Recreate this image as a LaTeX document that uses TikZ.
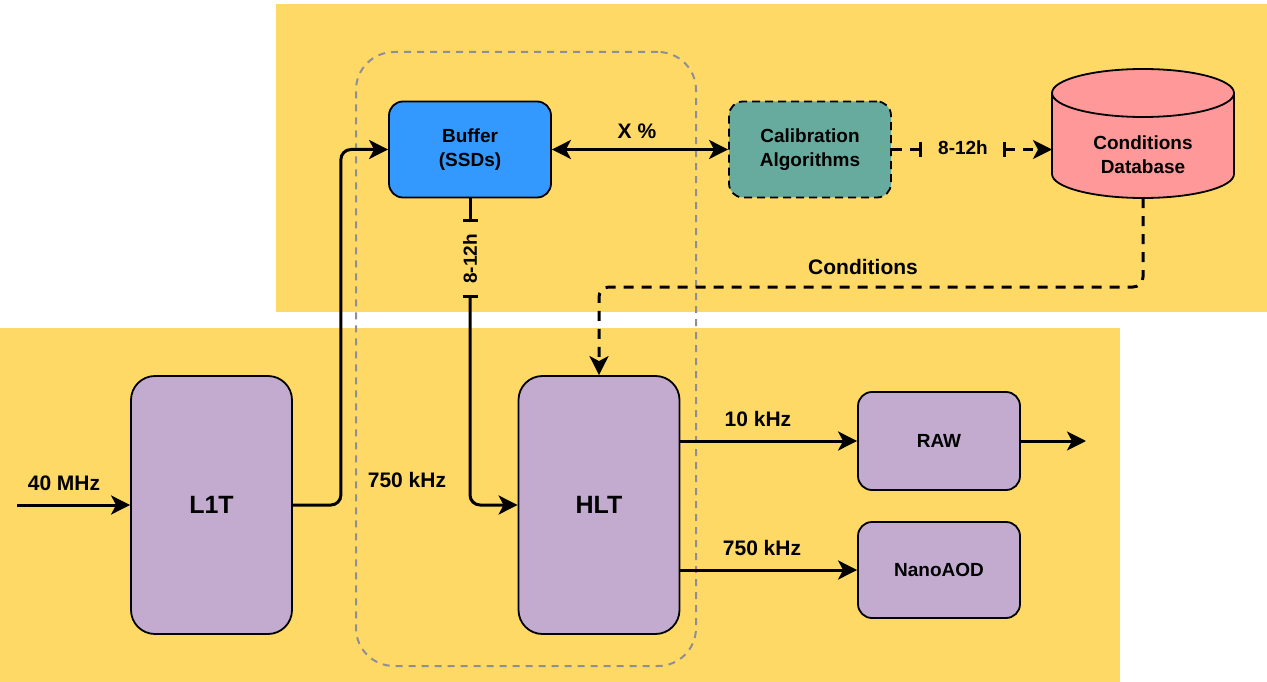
\documentclass[tikz,border=0pt]{standalone}
\usepackage{fontspec}
\setmainfont{Liberation Sans}
\usetikzlibrary{arrows.meta}
\definecolor{panel}{HTML}{FFD966}
\definecolor{lilac}{HTML}{C3ABD0}
\definecolor{bufblue}{HTML}{3399FF}
\definecolor{teal}{HTML}{67AB9F}
\definecolor{pink}{HTML}{FF9999}
\definecolor{grpgray}{HTML}{8E8E96}
\begin{document}
\begin{tikzpicture}[x=1pt,y=-1pt,
  box/.style={draw=black, line width=1.8pt, inner sep=0pt, align=center,
    font=\fontsize{19}{24}\selectfont\bfseries},
  bigbox/.style={box, fill=lilac, rounded corners=24pt, minimum width=161pt,
    minimum height=258pt, font=\fontsize{25}{30}\selectfont\bfseries},
  smallbox/.style={box, rounded corners=14pt, minimum width=162pt, minimum height=96pt},
  lbl/.style={inner sep=0pt, font=\fontsize{21}{25}\selectfont\bfseries},
  lbls/.style={inner sep=0pt, font=\fontsize{19}{23}\selectfont\bfseries},
  conn/.style={draw=black, line width=3pt},
  dconn/.style={conn, dash pattern=on 10pt off 8pt},
  tip/.tip={Stealth[length=19pt,width=19pt,inset=5pt]},
  bar/.tip={Bar[width=15pt]},
  grpbox/.style={draw=grpgray, line width=2pt, dash pattern=on 7pt off 6pt,
    rounded corners=38pt, minimum width=340pt, minimum height=614pt, inner sep=0pt},
]
\useasboundingbox (0,0) rectangle (1267,682);
% panels
\fill[panel] (276,4) rectangle (1267,312);
\fill[panel] (0,328) rectangle (1120,682);
% group box
\node[grpbox] (grp) at (526,359) {};
% nodes
\node[bigbox] (l1t) at (211.5,505) {L1T};
\node[bigbox] (hlt) at (599,505) {HLT};
\node[smallbox, fill=bufblue] (buffer) at (470,149.5) {Buffer\\(SSDs)};
\node[smallbox, fill=teal, dash pattern=on 8pt off 5pt] (calib) at (810,149.5) {Calibration\\Algorithms};
\node[smallbox, fill=lilac, minimum height=98pt] (raw) at (939,441) {RAW};
\node[smallbox, fill=lilac] (nano) at (939,570) {NanoAOD};
% database cylinder
\fill[pink] (1052,93) rectangle (1234,174);
\fill[pink] (1143,174) ellipse [x radius=91, y radius=24];
\draw[line width=1.8pt] (1052,93) -- (1052,174) arc[start angle=180, end angle=0, x radius=91, y radius=24] -- (1234,93);
\filldraw[fill=pink, draw=black, line width=1.8pt] (1143,93) ellipse [x radius=91, y radius=24];
\node[box, draw=none] (db) at (1143,155) {Conditions\\Database};
% coordinates
\coordinate (in) at (17,505);
\coordinate (out) at (1086,441);
\coordinate (dbL) at (1052,149.5);
\coordinate (dbB) at (1143,198);
\coordinate (cc) at (1143,287);
\coordinate (hb1) at (922,149.5);
\coordinate (hb2) at (1003,149.5);
\coordinate (vb1) at (470,222);
\coordinate (vb2) at (470,295);
% connectors
\draw[conn, -tip] (in) -- (l1t.west);
\draw[conn, -tip, rounded corners=10pt] (l1t.east) -- ++(48,0) |- (buffer.west);
\draw[conn, tip-tip] (buffer.east) -- (calib.west);
\draw[dconn, -bar] (calib.east) -- (hb1);
\draw[dconn, bar-tip] (hb2) -- (dbL);
\draw[dconn, -tip, rounded corners=10pt] (dbB) -- (cc) -| (hlt.north);
\draw[conn, -bar] (buffer.south) -- (vb1);
\draw[conn, bar-tip, rounded corners=10pt] (vb2) |- (hlt.west);
\draw[conn, -tip] (hlt.east |- raw.west) -- (raw.west);
\draw[conn, -tip] (hlt.east |- nano.west) -- (nano.west);
\draw[conn, -tip] (raw.east) -- (out);
% labels
\node[lbl] (l40) at (64,483) {40 MHz};
\node[lbl] (l750a) at (407,480) {750 kHz};
\node[lbl] (lx) at (637,131) {X \%};
\node[lbl] (lcond) at (863,267) {Conditions};
\node[lbl] (l10) at (758,419) {10 kHz};
\node[lbl] (l750b) at (762,548) {750 kHz};
\node[lbls, rotate=90] (lv) at (470,259) {8-12h};
\node[lbls] (lh) at (963,148) {8-12h};
\end{tikzpicture}
\end{document}
